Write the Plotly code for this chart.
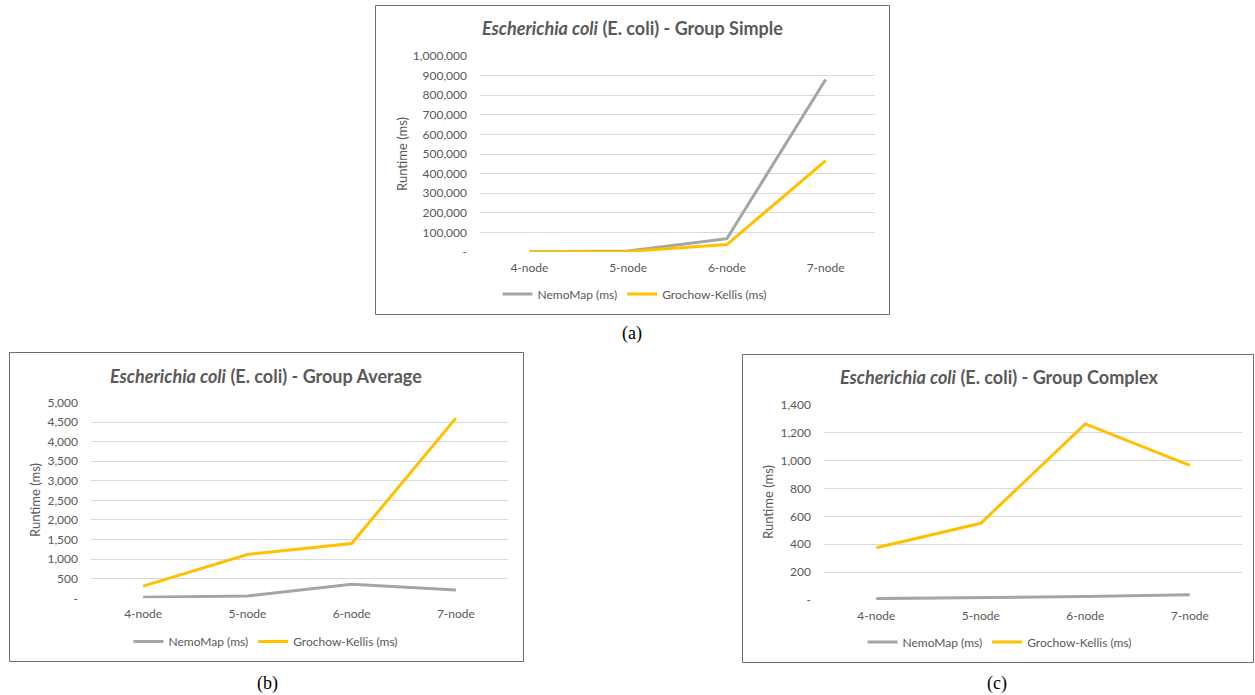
import plotly.graph_objects as go

W, H = 1255, 695

categories = ["4-node", "5-node", "6-node", "7-node"]

simple_nemomap = [1000, 5000, 68000, 880000]
simple_grochow = [500, 3000, 38000, 466000]

average_nemomap = [25, 60, 360, 210]
average_grochow = [310, 1120, 1400, 4600]

complex_nemomap = [10, 15, 25, 38]
complex_grochow = [375, 550, 1262, 965]

simple_ticks = [0, 100000, 200000, 300000, 400000, 500000, 600000, 700000, 800000, 900000, 1000000]
simple_ticktext = ["-", "100,000", "200,000", "300,000", "400,000", "500,000", "600,000", "700,000", "800,000", "900,000", "1,000,000"]
average_ticks = [0, 500, 1000, 1500, 2000, 2500, 3000, 3500, 4000, 4500, 5000]
average_ticktext = ["-", "500", "1,000", "1,500", "2,000", "2,500", "3,000", "3,500", "4,000", "4,500", "5,000"]
complex_ticks = [0, 200, 400, 600, 800, 1000, 1200, 1400]
complex_ticktext = ["-", "200", "400", "600", "800", "1,000", "1,200", "1,400"]

titles = [
    "<b><i>Escherichia coli</i> (E. coli) - Group Simple</b>",
    "<b><i>Escherichia coli</i> (E. coli) - Group Average</b>",
    "<b><i>Escherichia coli</i> (E. coli) - Group Complex</b>",
]
captions = ["(a)", "(b)", "(c)"]
series_names = ["NemoMap (ms)", "Grochow-Kellis (ms)"]

GRAY = "#A5A5A5"
GOLD = "#FFC000"
TXT = "#595959"
FONT = "Lato"

def px(x):
    return x / W

def py(y):
    return 1 - y / H

# panel geometry in pixels: plot area (x0, x1, ytop, ybottom), box (x0, x1, y0, y1)
panels = [
    dict(plot=(480, 875, 56, 252), box=(375.5, 889.5, 5.5, 314.5), title=(632, 28.5), ytitle=(402, 154),
         legend=(635, 294), caption=(632, 333)),
    dict(plot=(91, 508, 402.5, 598.3), box=(9.5, 523.5, 352.5, 661.5), title=(266, 375.5), ytitle=(35, 500),
         legend=(266, 641.5), caption=(267, 683)),
    dict(plot=(824, 1242, 404.7, 600), box=(742.5, 1253.5, 354.5, 662.5), title=(999, 377), ytitle=(768, 502),
         legend=(1000, 642), caption=(997, 683)),
]

data = [
    (simple_nemomap, simple_grochow, simple_ticks, simple_ticktext, 1000000),
    (average_nemomap, average_grochow, average_ticks, average_ticktext, 5000),
    (complex_nemomap, complex_grochow, complex_ticks, complex_ticktext, 1400),
]

fig = go.Figure()
layout = dict(
    width=W, height=H, margin=dict(l=0, r=0, t=0, b=0, pad=0, autoexpand=False),
    paper_bgcolor="white", plot_bgcolor="white",
    font=dict(family=FONT, color=TXT),
)
annotations = []
shapes = []

for i, (p, d) in enumerate(zip(panels, data)):
    nm, gk, tv, tt, ymax = d
    n = "" if i == 0 else str(i + 1)
    xa, ya = "x" + n, "y" + n
    lg = "legend" + n
    fig.add_trace(go.Scatter(x=categories, y=nm, mode="lines", name=series_names[0],
                             line=dict(color=GRAY, width=3), xaxis=xa, yaxis=ya, legend=lg))
    fig.add_trace(go.Scatter(x=categories, y=gk, mode="lines", name=series_names[1],
                             line=dict(color=GOLD, width=3), xaxis=xa, yaxis=ya, legend=lg))
    x0, x1, yt, yb = p["plot"]
    layout["xaxis" + n] = dict(
        domain=[px(x0), px(x1)], anchor=ya, type="category", range=[-0.5, 3.5],
        showgrid=False, showline=False, zeroline=False, ticks="", automargin=False,
        tickfont=dict(size=12, color=TXT, family=FONT), ticklabelstandoff=7,
    )
    layout["yaxis" + n] = dict(
        domain=[py(yb), py(yt)], anchor=xa, range=[0, ymax],
        tickvals=tv, ticktext=tt, showgrid=True, gridcolor="#D9D9D9", gridwidth=1,
        zeroline=False, showline=False, ticks="", automargin=False,
        tickfont=dict(size=12, color=TXT, family=FONT), ticklabelstandoff=12,
    )
    lx, ly = p["legend"]
    layout[lg] = dict(
        orientation="h", x=px(lx), y=py(ly), xanchor="center", yanchor="middle",
        font=dict(size=12, color=TXT, family=FONT), bgcolor="rgba(0,0,0,0)",
        itemwidth=30, tracegroupgap=0,
    )
    tx, ty = p["title"]
    annotations.append(dict(text=titles[i], x=px(tx), y=py(ty), xref="paper", yref="paper",
                            showarrow=False, xanchor="center", yanchor="middle",
                            font=dict(size=18, color=TXT, family=FONT)))
    ax_, ay_ = p["ytitle"]
    annotations.append(dict(text="Runtime (ms)", x=px(ax_), y=py(ay_), xref="paper", yref="paper",
                            showarrow=False, xanchor="center", yanchor="middle", textangle=-90,
                            font=dict(size=13, color=TXT, family=FONT)))
    cx, cy = p["caption"]
    annotations.append(dict(text=captions[i], x=px(cx), y=py(cy), xref="paper", yref="paper",
                            showarrow=False, xanchor="center", yanchor="middle",
                            font=dict(size=18, color="black", family="Liberation Serif")))
    bx0, bx1, by0, by1 = p["box"]
    shapes.append(dict(type="rect", xref="paper", yref="paper",
                       x0=px(bx0), x1=px(bx1), y0=py(by1), y1=py(by0),
                       line=dict(color="#6E6E6E", width=1), fillcolor="rgba(0,0,0,0)"))

layout["annotations"] = annotations
layout["shapes"] = shapes
fig.update_layout(**layout)

post = (
    "document.documentElement.style.margin='0';"
    "document.documentElement.style.padding='0';"
    "document.documentElement.style.overflow='hidden';"
    "document.body.style.margin='0';"
    "document.body.style.padding='0';"
    "document.body.style.overflow='hidden';"
    "var gd=document.getElementById('{plot_id}');"
    "gd.style.position='fixed';gd.style.top='0px';gd.style.left='0px';"
)
fig.write_html("out.html", config={"displayModeBar": False}, post_script=post)
